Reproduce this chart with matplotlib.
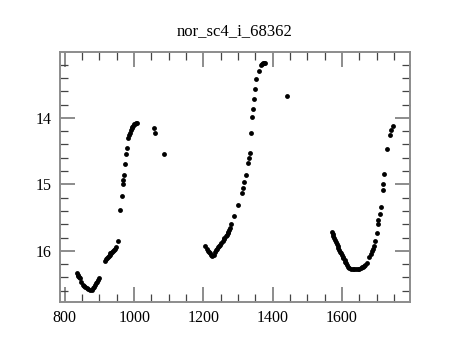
"""
Light curve of nor_sc4_i_68362
"""

import matplotlib.pyplot as plt
from matplotlib.ticker import MultipleLocator

# first season
t1 = [834, 837, 839, 842, 844, 848, 852, 855, 859, 863, 868, 873, 878, 882, 885, 887,
      890, 892, 896, 900, 916, 919, 921, 924, 926, 929, 931, 934, 936, 939, 942, 945,
      948, 952, 960, 964, 967, 969, 971, 974, 977, 979, 983, 986, 988, 991, 993, 995,
      998, 1001, 1003, 1006, 1008, 1056, 1060, 1087]
m1 = [16.34, 16.36, 16.38, 16.40, 16.41, 16.47, 16.52, 16.53, 16.54, 16.56, 16.58, 16.59,
      16.59, 16.56, 16.54, 16.52, 16.49, 16.47, 16.44, 16.41, 16.15, 16.13, 16.11, 16.10,
      16.08, 16.06, 16.04, 16.03, 16.02, 16.00, 15.99, 15.97, 15.95, 15.85, 15.39, 15.18,
      15.00, 14.94, 14.86, 14.70, 14.55, 14.46, 14.31, 14.26, 14.23, 14.18, 14.16, 14.14,
      14.12, 14.10, 14.09, 14.08, 14.08, 14.16, 14.23, 14.55]

# second season
t2 = [1205, 1210, 1213, 1216, 1219, 1222, 1224, 1229, 1233, 1236, 1240, 1243, 1246, 1248,
      1251, 1255, 1258, 1260, 1264, 1267, 1270, 1272, 1275, 1277, 1280, 1289, 1299, 1311,
      1315, 1318, 1323, 1328, 1330, 1333, 1338, 1341, 1343, 1346, 1349, 1353, 1359, 1366,
      1370, 1373, 1375, 1378, 1440]
m2 = [15.93, 15.98, 16.00, 16.02, 16.04, 16.06, 16.08, 16.06, 16.02, 15.99, 15.97, 15.95,
      15.93, 15.91, 15.89, 15.86, 15.83, 15.81, 15.78, 15.76, 15.73, 15.71, 15.68, 15.66,
      15.60, 15.48, 15.31, 15.13, 15.05, 14.96, 14.86, 14.68, 14.61, 14.53, 14.23, 13.99,
      13.87, 13.71, 13.56, 13.42, 13.29, 13.21, 13.19, 13.18, 13.17, 13.17, 13.67]

# third season
t3 = [1570, 1573, 1575, 1578, 1580, 1583, 1585, 1587, 1589, 1592, 1594, 1597, 1599, 1602,
      1604, 1607, 1609, 1611, 1614, 1617, 1621, 1626, 1631, 1635, 1640, 1645, 1650, 1654,
      1657, 1660, 1664, 1667, 1671, 1679, 1683, 1686, 1689, 1692, 1696, 1700, 1703, 1705,
      1708, 1711, 1717, 1719, 1722, 1731, 1739, 1741, 1746]
m3 = [15.71, 15.75, 15.78, 15.81, 15.84, 15.87, 15.90, 15.93, 15.96, 15.99, 16.02, 16.04,
      16.06, 16.09, 16.11, 16.14, 16.17, 16.19, 16.22, 16.24, 16.26, 16.27, 16.27, 16.28,
      16.28, 16.28, 16.27, 16.26, 16.25, 16.24, 16.23, 16.21, 16.19, 16.09, 16.05, 16.01,
      15.98, 15.93, 15.86, 15.73, 15.60, 15.54, 15.44, 15.34, 15.09, 14.99, 14.85, 14.47,
      14.26, 14.18, 14.12]

plt.rcParams["font.family"] = ["Liberation Serif", "DejaVu Serif"]

fig = plt.figure(figsize=(4.6, 3.4), dpi=100)
ax = fig.add_axes([0.1304, 0.1118, 0.7609, 0.7352])

for t, m in [(t1, m1), (t2, m2), (t3, m3)]:
    ax.plot(t, m, "o", color="black", markersize=3.5, markeredgewidth=0)

ax.set_xlim(786, 1796)
ax.set_ylim(16.77, 13.01)

ax.xaxis.set_major_locator(MultipleLocator(200))
ax.xaxis.set_minor_locator(MultipleLocator(50))
ax.yaxis.set_major_locator(MultipleLocator(1))
ax.yaxis.set_minor_locator(MultipleLocator(0.2))

for side in ax.spines.values():
    side.set_color("#8c8c8c")
    side.set_linewidth(1.4)

ax.tick_params(which="both", direction="in", top=True, right=True)
ax.tick_params(which="major", length=10.5, width=1.4, color="#8c8c8c",
               labelsize=11.5, pad=6)
ax.tick_params(which="minor", length=5.5, width=0.9, color="#444444")

ax.set_title("nor_sc4_i_68362", fontsize=12, pad=12)

plt.savefig("out.png", dpi=100)
